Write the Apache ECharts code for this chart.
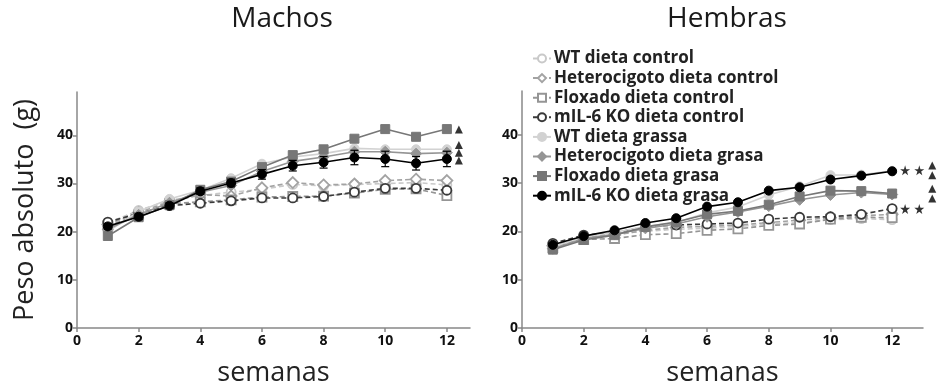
<!DOCTYPE html>
<html>
<head>
<meta charset="utf-8">
<script src="https://cdn.jsdelivr.net/npm/echarts@6/dist/echarts.min.js"></script>
<style>html,body{margin:0;padding:0;background:#fff;}#c{width:938px;height:392px;}</style>
</head>
<body>
<div id="c"></div>
<script>
const weeks = [1,2,3,4,5,6,7,8,9,10,11,12];
const xTicks = [0,2,4,6,8,10,12];
const yTicks = [0,10,20,30,40];
const seriesNames = ['WT dieta control','Heterocigoto dieta control','Floxado dieta control','mIL-6 KO dieta control','WT dieta grassa','Heterocigoto dieta grasa','Floxado dieta grasa','mIL-6 KO dieta grasa'];

// Machos
const maleWTControl   = [21.8, 24.4, 26.5, 27.5, 28.2, 28.8, 29.8, 29.5, 29.8, 30.0, 30.2, 29.7];
const maleHetControl  = [21.5, 24.0, 26.2, 27.7, 27.4, 29.1, 30.2, 29.7, 29.9, 30.6, 30.9, 30.6];
const maleFloxControl = [21.2, 23.5, 25.8, 26.2, 26.6, 27.2, 27.3, 27.4, 28.0, 28.8, 28.9, 27.5];
const maleKOControl   = [22.0, 23.8, 25.4, 25.9, 26.4, 27.0, 27.0, 27.3, 28.2, 29.0, 29.0, 28.6];
const maleWTFat       = [20.0, 24.2, 26.8, 28.6, 31.1, 34.1, 35.5, 36.2, 37.3, 37.1, 37.1, 37.1];
const maleHetFat      = [20.5, 23.5, 26.0, 28.2, 29.6, 32.5, 34.6, 35.5, 36.6, 36.6, 36.2, 36.4];
const maleFloxFat     = [19.1, 23.0, 25.5, 28.7, 30.4, 33.4, 35.9, 37.1, 39.3, 41.3, 39.7, 41.3];
const maleKOFat       = [21.1, 23.1, 25.4, 28.4, 30.1, 31.9, 33.7, 34.4, 35.4, 35.1, 34.2, 35.1];
const maleKOFatErr    = [0.6, 0.6, 0.6, 0.7, 0.8, 1.0, 1.1, 1.2, 1.5, 1.6, 1.4, 1.6];
const maleTriangles   = [[12.39, 41.2], [12.39, 38.0], [12.39, 36.4], [12.39, 34.8]];

// Hembras
const femaleWTControl   = [17.3, 18.8, 19.4, 20.0, 20.4, 20.6, 21.0, 21.5, 21.8, 22.4, 22.6, 22.4];
const femaleHetControl  = [17.0, 18.6, 19.2, 20.2, 20.8, 21.0, 21.3, 21.8, 22.3, 22.8, 23.2, 23.5];
const femaleFloxControl = [16.6, 18.3, 18.5, 19.3, 19.5, 20.2, 20.5, 21.2, 21.5, 22.5, 22.9, 22.8];
const femaleKOControl   = [17.5, 19.2, 19.7, 20.9, 21.3, 21.5, 21.7, 22.5, 22.9, 23.0, 23.5, 24.7];
const femaleWTFat       = [16.8, 18.8, 19.8, 21.0, 21.8, 23.8, 25.0, 27.5, 29.3, 31.6, 31.7, 32.5];
const femaleHetFat      = [16.4, 18.5, 19.4, 20.6, 21.5, 23.0, 24.0, 25.2, 26.5, 27.5, 28.0, 27.6];
const femaleFloxFat     = [16.2, 18.2, 19.2, 20.9, 21.9, 23.5, 24.2, 25.5, 27.2, 28.4, 28.3, 27.8];
const femaleKOFat       = [17.2, 19.0, 20.2, 21.7, 22.7, 25.1, 26.0, 28.4, 29.1, 30.7, 31.5, 32.4];
const femaleTriangles   = [[13.3, 33.6], [13.3, 31.6], [13.3, 28.8], [13.3, 26.8]];
const femaleStars       = [[12.42, 32.6], [12.88, 32.6], [12.42, 24.6], [12.88, 24.6]];

const styles = [
  {color:'#c9c9c9', symbol:'circle', fill:'#fff', dashed:true},
  {color:'#a3a3a3', symbol:'diamond', fill:'#fff', dashed:true},
  {color:'#959595', symbol:'rect', fill:'#fff', dashed:true},
  {color:'#3a3a3a', symbol:'circle', fill:'#fff', dashed:true},
  {color:'#d2d2d2', symbol:'circle', fill:'#d2d2d2', dashed:false},
  {color:'#959595', symbol:'diamond', fill:'#959595', dashed:false},
  {color:'#777777', symbol:'rect', fill:'#777777', dashed:false},
  {color:'#000000', symbol:'circle', fill:'#000000', dashed:false}
];
const maleData = [maleWTControl, maleHetControl, maleFloxControl, maleKOControl, maleWTFat, maleHetFat, maleFloxFat, maleKOFat];
const femaleData = [femaleWTControl, femaleHetControl, femaleFloxControl, femaleKOControl, femaleWTFat, femaleHetFat, femaleFloxFat, femaleKOFat];
const starPath = 'path://M50,0 L61,35 L98,35 L68,57 L79,91 L50,70 L21,91 L32,57 L2,35 L39,35 Z';
const FONT = 'Open Sans';

function lineSeries(arr, idx, gi){
  const s = styles[idx];
  return {
    name: seriesNames[idx], type:'line', xAxisIndex:gi, yAxisIndex:gi,
    data: weeks.map((w,i)=>[w, arr[i]]),
    symbol: s.symbol, symbolSize: s.symbol==='diamond'?11:9,
    lineStyle:{color:s.color, width:1.6, type: s.dashed?[5,3]:'solid'},
    itemStyle:{color:s.fill, borderColor:s.color, borderWidth: s.dashed?1.8:1},
    z: 2+idx, animation:false
  };
}
function axisX(gi, max){
  return {
    type:'value', gridIndex:gi, min:0, max:max, interval:2,
    name:'semanas', nameLocation:'middle', nameGap:32,
    nameTextStyle:{fontFamily:FONT, fontSize:27, color:'#222'},
    axisLine:{lineStyle:{color:'#888', width:1.5}},
    axisTick:{show:true, length:4, lineStyle:{color:'#888', width:1.5}},
    axisLabel:{fontFamily:FONT, fontWeight:'bold', fontSize:14, color:'#111', margin:6, showMaxLabel:false,
      formatter: v => xTicks.indexOf(v) >= 0 ? String(v) : ''},
    splitLine:{show:false}
  };
}
function axisY(gi, name){
  return {
    type:'value', gridIndex:gi, min:0, max:49, interval:10,
    name:name, nameLocation:'middle', nameGap:38, nameRotate:90,
    nameTextStyle:{fontFamily:FONT, fontSize:27, color:'#222'},
    axisLine:{show:true, lineStyle:{color:'#888', width:1.5}},
    axisTick:{show:true, length:4, lineStyle:{color:'#888', width:1.5}},
    axisLabel:{fontFamily:FONT, fontWeight:'bold', fontSize:14, color:'#111', margin:4, showMaxLabel:false,
      formatter: v => yTicks.indexOf(v) >= 0 ? String(v) : ''},
    splitLine:{show:false}
  };
}

const series = [];
maleData.forEach((arr,i)=>series.push(lineSeries(arr,i,0)));
femaleData.forEach((arr,i)=>series.push(lineSeries(arr,i,1)));
series.push({
  type:'custom', xAxisIndex:0, yAxisIndex:0, z:20, animation:false,
  data: weeks.map((w,i)=>[w, maleKOFat[i]-maleKOFatErr[i], maleKOFat[i]+maleKOFatErr[i]]),
  renderItem:function(params, api){
    const lo = api.coord([api.value(0), api.value(1)]);
    const hi = api.coord([api.value(0), api.value(2)]);
    const w = 4;
    return {type:'group', children:[
      {type:'line', shape:{x1:lo[0], y1:lo[1], x2:hi[0], y2:hi[1]}, style:{stroke:'#000', lineWidth:1.2}},
      {type:'line', shape:{x1:lo[0]-w, y1:lo[1], x2:lo[0]+w, y2:lo[1]}, style:{stroke:'#000', lineWidth:1.2}},
      {type:'line', shape:{x1:hi[0]-w, y1:hi[1], x2:hi[0]+w, y2:hi[1]}, style:{stroke:'#000', lineWidth:1.2}}
    ]};
  }
});
series.push({type:'scatter', xAxisIndex:0, yAxisIndex:0, data:maleTriangles, symbol:'triangle', symbolSize:8, itemStyle:{color:'#000'}, clip:false, animation:false, z:30});
series.push({type:'scatter', xAxisIndex:1, yAxisIndex:1, data:femaleTriangles, symbol:'triangle', symbolSize:8, itemStyle:{color:'#000'}, clip:false, animation:false, z:30});
series.push({type:'scatter', xAxisIndex:1, yAxisIndex:1, data:femaleStars, symbol:starPath, symbolSize:10, itemStyle:{color:'#000'}, clip:false, animation:false, z:30});

const chart = echarts.init(document.getElementById('c'), null, {renderer:'canvas'});
chart.setOption({
  backgroundColor:'#fff',
  animation:false,
  title:[
    {text:'Machos', left:277, top:0, textAlign:'center', textStyle:{fontFamily:FONT, fontSize:28, fontWeight:'normal', color:'#1a1a1a'}},
    {text:'Hembras', left:722, top:0, textAlign:'center', textStyle:{fontFamily:FONT, fontSize:28, fontWeight:'normal', color:'#1a1a1a'}}
  ],
  legend:{
    orient:'vertical', left:527, top:45, itemWidth:18, itemHeight:10, itemGap:2.6,
    data: seriesNames,
    textStyle:{fontFamily:FONT, fontWeight:'bold', fontSize:17, color:'#222', padding:[0,0,0,-2]},
    selectedMode:false
  },
  grid:[
    {left:77, top:92, width:393, height:245},
    {left:522, top:91, width:401, height:245}
  ],
  xAxis:[axisX(0, 12.75), axisX(1, 13)],
  yAxis:[axisY(0, 'Peso absoluto  (g)'), axisY(1, '')],
  series: series
});
</script>
</body>
</html>
